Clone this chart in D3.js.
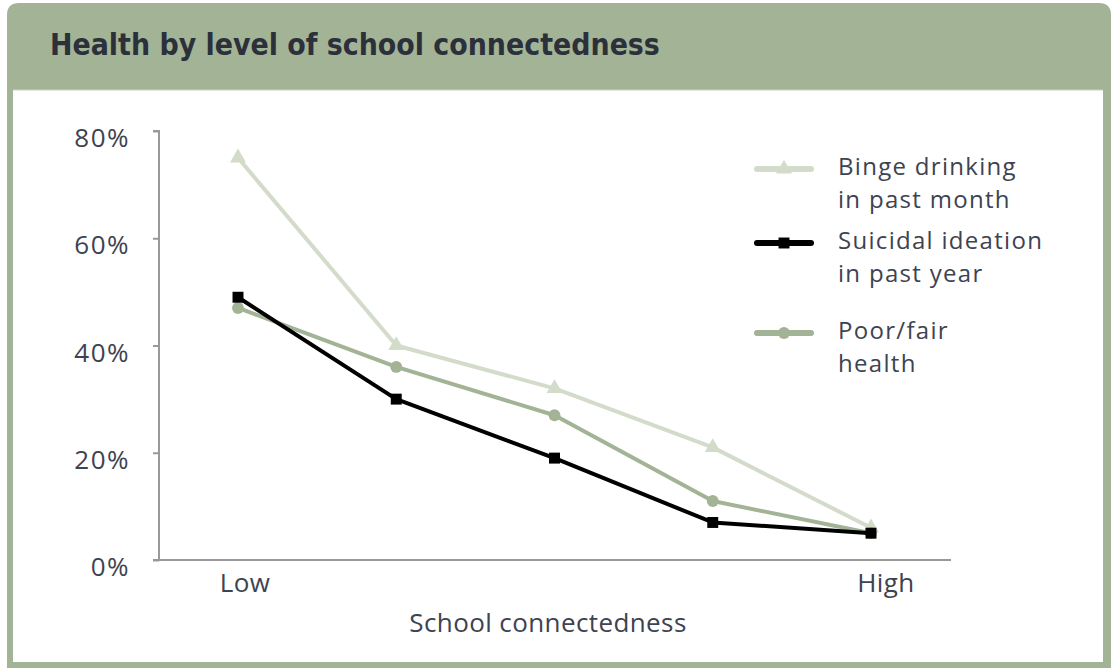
<!DOCTYPE html>
<head>
  <meta charset="utf-8">
  <script src="https://d3js.org/d3.v7.min.js"></script>
  <style>
    body { margin: 0; background: #fff; }
    svg text { font-family: "Open Sans", Lato, sans-serif; fill: #3d4350; letter-spacing: 0.4px; }
    .title { font-family: "DejaVu Sans Condensed", "DejaVu Sans", sans-serif; font-weight: bold; fill: #2b303b; letter-spacing: 0; }
  </style>
</head>
<body>
  <div id="chart"></div>
  <script>
    // data
    var levels = ["Low", "2", "3", "4", "High"];
    var binge = [75, 40, 32, 21, 6];
    var suicidal = [49, 30, 19, 7, 5];
    var poorHealth = [47, 36, 27, 11, 5];
    var yTicks = [0, 20, 40, 60, 80];
    var seriesNames = [["Binge drinking", "in past month"], ["Suicidal ideation", "in past year"], ["Poor/fair", "health"]];

    var width = 1114, height = 670;
    var green = "#a3b396", light = "#d3dcca";

    var svg = d3.select("#chart").append("svg")
      .attr("width", width)
      .attr("height", height);

    // frame: green box with rounded top, white panel inside
    var r = 12, fx0 = 7, fy0 = 3, fx1 = 1111, fy1 = 668;
    svg.append("path")
      .attr("d", "M" + fx0 + "," + fy1 + "V" + (fy0 + r) + "Q" + fx0 + "," + fy0 + " " + (fx0 + r) + "," + fy0 +
        "H" + (fx1 - r) + "Q" + fx1 + "," + fy0 + " " + fx1 + "," + (fy0 + r) + "V" + fy1 + "Z")
      .attr("fill", green);
    svg.append("rect")
      .attr("x", 13).attr("y", 90)
      .attr("width", 1090).attr("height", 572)
      .attr("fill", "#fff");
    svg.append("line")
      .attr("x1", 13).attr("x2", 1103).attr("y1", 90).attr("y2", 90)
      .attr("stroke", "#c9d2c0").attr("stroke-width", 1);

    var title = svg.append("text")
      .attr("class", "title")
      .attr("x", 50).attr("y", 55)
      .style("font-size", "26px")
      .text("Health by level of school connectedness");
    var tw = title.node().getComputedTextLength();
    title.style("font-size", (26 * 610 / tw) + "px");

    var x = d3.scalePoint().domain(levels).range([238, 871]);
    var y = d3.scaleLinear().domain([0, 80]).range([560, 131]);

    // axes
    var yAxis = svg.append("g")
      .attr("transform", "translate(159,0)")
      .call(d3.axisLeft(y).tickValues(yTicks).tickSize(6).tickPadding(23).tickFormat(function(d) { return d + "%"; }));
    yAxis.select(".domain").attr("stroke", "#999").attr("stroke-width", 2).attr("d", "M-6,131H0V560");
    yAxis.selectAll(".tick line").attr("stroke", "#999").attr("stroke-width", 2);
    yAxis.selectAll(".tick text")
      .style("font-size", "26px").style("letter-spacing", "1.5px").attr("fill", "#3d4350").attr("dy", "0.6em");

    svg.append("line")
      .attr("x1", 153).attr("x2", 951).attr("y1", 560).attr("y2", 560)
      .attr("stroke", "#999").attr("stroke-width", 2);

    svg.selectAll(".xlab")
      .data([["Low", 7], ["High", 15]])
      .enter().append("text")
      .attr("class", "xlab")
      .attr("x", function(d) { return x(d[0]) + d[1]; })
      .attr("y", 592)
      .attr("text-anchor", "middle")
      .style("font-size", "26px")
      .text(function(d) { return d[0]; });

    svg.append("text")
      .attr("x", 548).attr("y", 632)
      .attr("text-anchor", "middle")
      .style("font-size", "26px")
      .text("School connectedness");

    var series = [
      { name: seriesNames[0], values: binge, color: light, shape: d3.symbolTriangle, size: 110, legendY: 169 },
      { name: seriesNames[2], values: poorHealth, color: green, shape: d3.symbolCircle, size: 110, legendY: 333 },
      { name: seriesNames[1], values: suicidal, color: "#000", shape: d3.symbolSquare, size: 120, legendY: 243 }
    ];

    var line = d3.line()
      .x(function(d, i) { return x(levels[i]); })
      .y(function(d) { return y(d); });

    series.forEach(function(s) {
      var g = svg.append("g");
      g.append("path")
        .attr("d", line(s.values))
        .attr("fill", "none")
        .attr("stroke", s.color)
        .attr("stroke-width", 4)
        .attr("stroke-linejoin", "round");
      g.selectAll("path.pt")
        .data(s.values)
        .enter().append("path")
        .attr("class", "pt")
        .attr("d", d3.symbol().type(s.shape).size(s.size))
        .attr("transform", function(d, i) { return "translate(" + x(levels[i]) + "," + y(d) + ")"; })
        .attr("fill", s.color);

      // legend
      var lg = svg.append("g").attr("transform", "translate(0," + s.legendY + ")");
      lg.append("line")
        .attr("x1", 757).attr("x2", 811)
        .attr("stroke", s.color).attr("stroke-width", 6).attr("stroke-linecap", "round");
      lg.append("path")
        .attr("d", d3.symbol().type(s.shape).size(s.size))
        .attr("transform", "translate(784,0)")
        .attr("fill", s.color);
      lg.selectAll("text")
        .data(s.name)
        .enter().append("text")
        .attr("x", 838)
        .attr("y", function(d, i) { return 6 + i * 33; })
        .style("font-size", "24px")
        .style("letter-spacing", "1.3px")
        .text(function(d) { return d; });
    });
  </script>
</body>
